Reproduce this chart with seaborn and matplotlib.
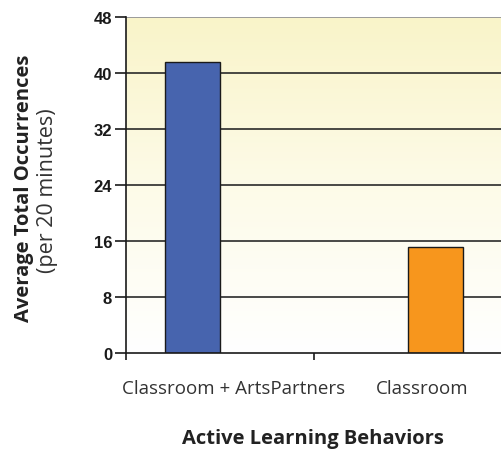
import numpy as np
import pandas as pd
import matplotlib.pyplot as plt
import matplotlib.transforms as mtransforms
from matplotlib.colors import LinearSegmentedColormap
import seaborn as sns

# data
categories = ['Classroom + ArtsPartners', 'Classroom']
values = [41.6, 15.1]
colors = ['#4764AE', '#F7961D']
y_ticks = [0, 8, 16, 24, 32, 40, 48]

df = pd.DataFrame({'group': categories, 'value': values})

sns.set_style('white')
plt.rcParams['font.family'] = ['Liberation Sans', 'DejaVu Sans']
label_font = ['Open Sans', 'DejaVu Sans']

fig = plt.figure(figsize=(5.01, 4.56), dpi=100)
ax = fig.add_axes([126 / 501, 102 / 456, 376 / 501, 336 / 456])

# yellow-to-white background gradient
grad = np.linspace(0, 1, 256).reshape(-1, 1)
cmap = LinearSegmentedColormap.from_list('bg', ['#FFFFFF', '#FDFBE8', '#F9F4C9'])
ax.imshow(grad, extent=[0, 1, 0, 1], transform=ax.transAxes, origin='lower',
          aspect='auto', cmap=cmap, zorder=0)

sns.barplot(data=df, x='group', y='value', hue='group', order=categories,
            hue_order=categories, palette=colors, dodge=True, width=0.58,
            saturation=1, edgecolor='#1a1a1a', linewidth=1.0, legend=False,
            zorder=3, ax=ax)

ax.set_xlim(-0.5, 1.5)
ax.set_ylim(0, 48)
ax.set_yticks(y_ticks)
ax.set_yticklabels([str(t) for t in y_ticks], fontweight='bold', fontsize=12,
                   color='#1a1a1a')
for t in y_ticks[1:-1]:
    ax.axhline(t, color='#2a2a2a', lw=1.2, zorder=1)
ax.axhline(48, color='#9a9a9a', lw=1.4, zorder=1)

ax.tick_params(axis='y', direction='out', length=8, width=1.2, color='#1a1a1a',
               left=True, pad=2)
ax.set_xticks([0, 1])
ax.set_xticklabels(categories, fontsize=13.5, family=label_font, color='#333333')
ax.tick_params(axis='x', length=0, pad=19)
ax.set_xticks([-0.5, 0.5], minor=True)
ax.tick_params(axis='x', which='minor', direction='out', length=5, width=1.2,
               color='#1a1a1a', bottom=True)
shift = mtransforms.ScaledTranslation(14 / 100, 0, fig.dpi_scale_trans)
for lab in ax.get_xticklabels():
    lab.set_transform(lab.get_transform() + shift)

for s in ['top', 'right']:
    ax.spines[s].set_visible(False)
for s in ['left', 'bottom']:
    ax.spines[s].set_color('#1a1a1a')
    ax.spines[s].set_linewidth(1.2)
    ax.spines[s].set_zorder(4)

ax.set_xlabel('')
ax.set_ylabel('')
fig.text(313 / 501, 1 - 439 / 456, 'Active Learning Behaviors', ha='center',
         va='center', fontsize=14.5, fontweight='bold', family=label_font,
         color='#222222')
fig.text(24 / 501, 1 - 188 / 456, 'Average Total Occurrences', rotation=90,
         ha='center', va='center', fontsize=14.5, fontweight='bold',
         family=label_font, color='#222222')
fig.text(48 / 501, 1 - 191 / 456, '(per 20 minutes)', rotation=90,
         ha='center', va='center', fontsize=15.5, family=label_font,
         color='#333333')

fig.savefig('out.png', dpi=100)
